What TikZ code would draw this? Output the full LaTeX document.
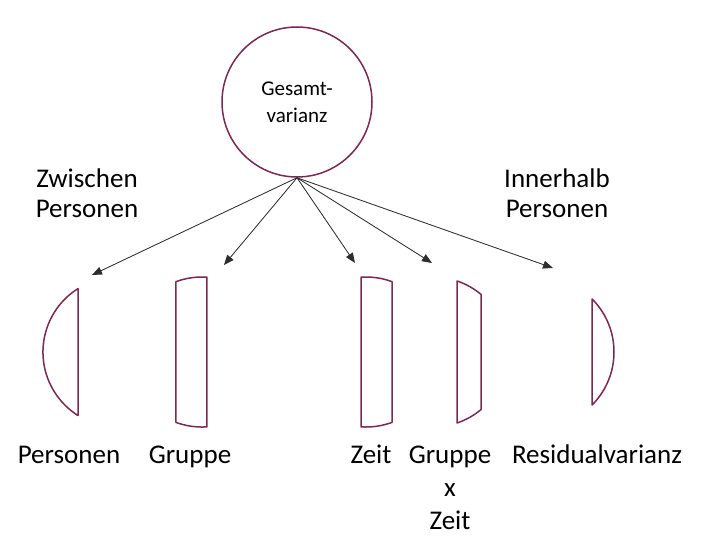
\documentclass[tikz,border=0pt]{standalone}
\usepackage{fontspec}
\setmainfont{Carlito}
\usetikzlibrary{arrows.meta}

\definecolor{wine}{RGB}{122,42,82}
\definecolor{arrowgray}{RGB}{45,45,45}

\begin{document}
\begin{tikzpicture}[
    x=1pt, y=1pt,
    total node/.style={circle,draw=wine,line width=1.5pt,minimum size=150pt,inner sep=0pt,align=center,font=\fontsize{21}{27}\selectfont},
    group node/.style={align=center,anchor=base,font=\fontsize{27}{30}\selectfont},
    label node/.style={align=center,anchor=base,font=\fontsize{27}{33}\selectfont},
    slice/.style={draw=wine,line width=1.5pt,line join=round},
    arrow/.style={-{Triangle[length=10pt,width=8pt]},draw=arrowgray,fill=arrowgray,line width=0.8pt}
]
\useasboundingbox (0,0) rectangle (705,550);

\node[total node] (total) at (297,448) {Gesamt-\\varianz};

\node[group node] (between) at (87,332) {Zwischen\\Personen};
\node[group node] (within) at (557,332) {Innerhalb\\Personen};

% Teile der Gesamtvarianz
\draw[slice] (78,261.4) arc[start angle=122.2,end angle=237.8,radius=75] -- cycle;
\draw[slice] (202,198) ++(110.3:75) arc[start angle=110.3,end angle=86.2,radius=75] -- ++(0,-149.7) arc[start angle=-86.2,end angle=-110.3,radius=75] -- cycle;
\draw[slice] (366,198) ++(93.8:75) arc[start angle=93.8,end angle=69.7,radius=75] -- ++(0,-140.7) arc[start angle=-69.7,end angle=-93.8,radius=75] -- cycle;
\draw[slice] (433,198) ++(71.3:75) arc[start angle=71.3,end angle=50.2,radius=75] -- ++(0,-115.2) arc[start angle=-50.2,end angle=-71.3,radius=75] -- cycle;
\draw[slice] (539,198) ++(45:75) arc[start angle=45,end angle=-45,radius=75] -- cycle;

\coordinate (to persons) at (92,275);
\coordinate (to group) at (224,285);
\coordinate (to time) at (355,287);
\coordinate (to interaction) at (432,287);
\coordinate (to residual) at (553,282);

\foreach \target in {to persons,to group,to time,to interaction,to residual}
    \draw[arrow] (total.south) -- (\target);

\node[label node] (persons) at (69,87) {Personen};
\node[label node] (group) at (190,87) {Gruppe};
\node[label node] (time) at (371,87) {Zeit};
\node[label node] (interaction) at (450,21) {Gruppe\\x\\Zeit};
\node[label node] (residual) at (597,87) {Residualvarianz};

\end{tikzpicture}
\end{document}
